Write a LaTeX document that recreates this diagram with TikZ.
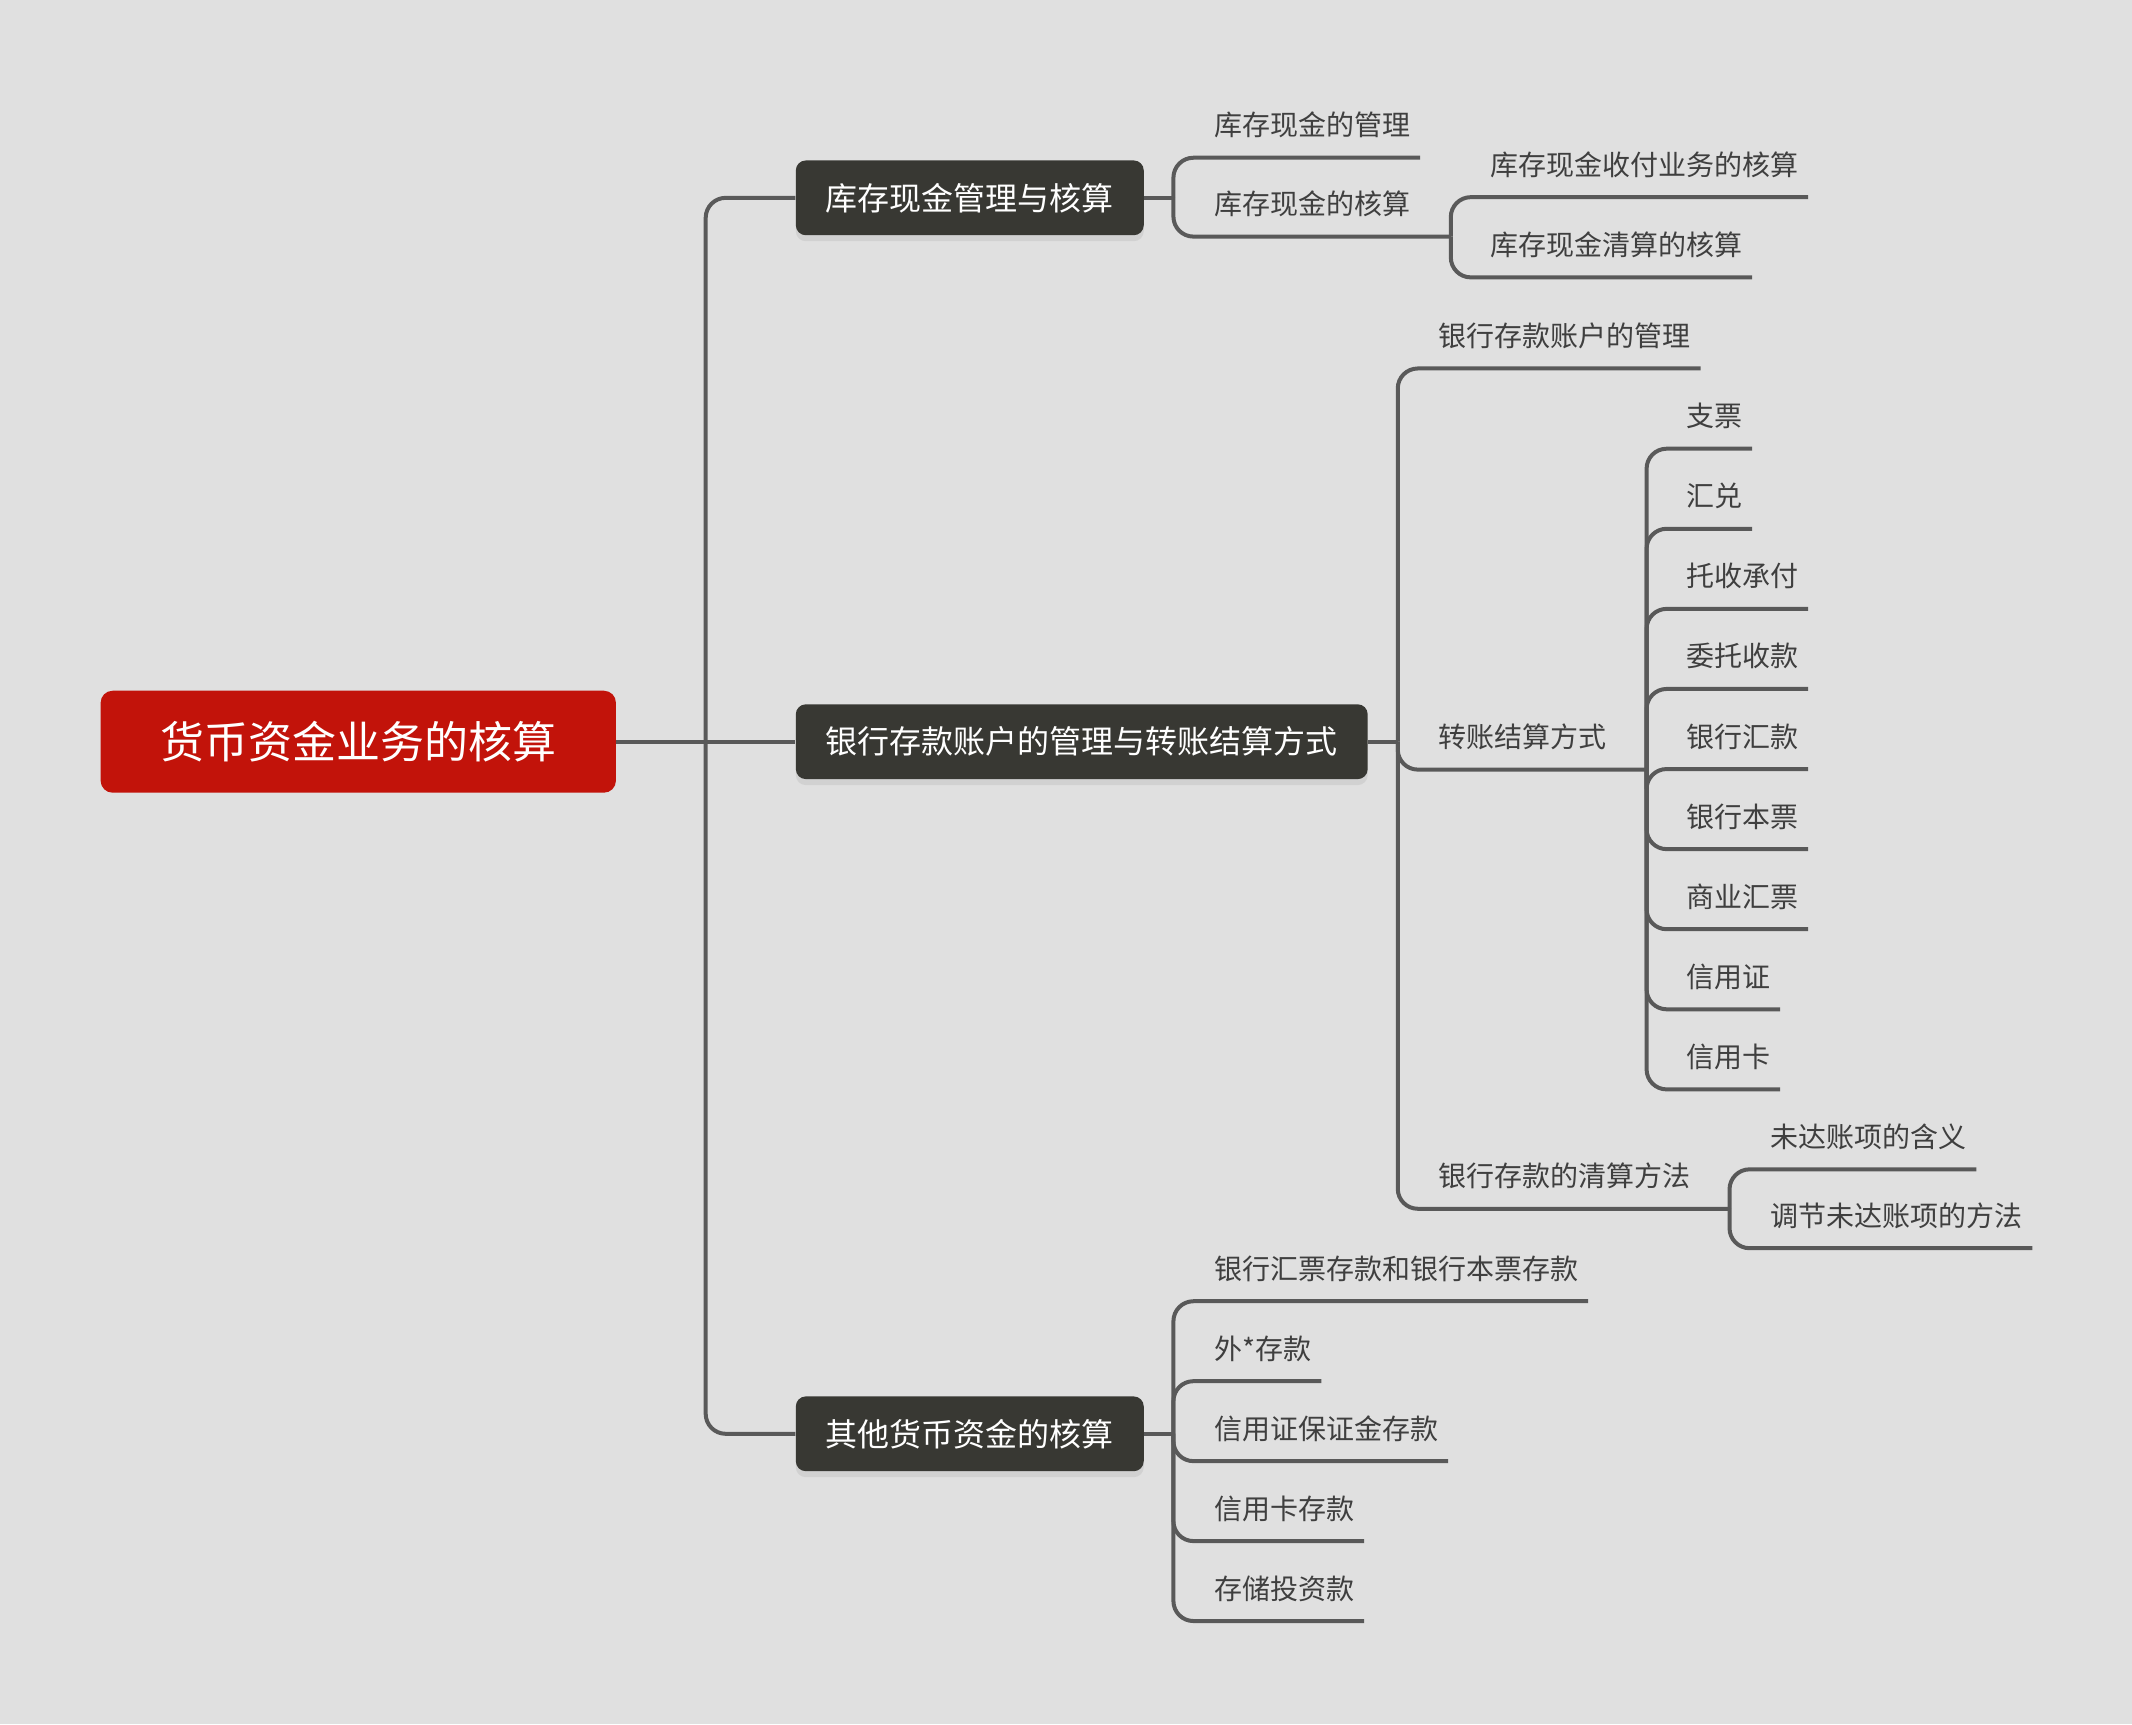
\documentclass[tikz,border=0pt]{standalone}
\usepackage{fontspec}
\setmainfont{Noto Sans CJK SC}
\usetikzlibrary{positioning,shadows}
\definecolor{bggray}{HTML}{E0E0E0}
\definecolor{linegray}{HTML}{595959}
\definecolor{topicgray}{HTML}{383833}
\definecolor{rootred}{HTML}{C2130A}
\definecolor{txtgray}{HTML}{3F3F3F}
\tikzset{x=0.68pt, y=-0.68pt, % one unit = one pixel of the sketch
link/.style={draw=linegray, line width=2pt, rounded corners=10pt}, % every branch line
rootbox/.style={fill=rootred, text=white, rounded corners=6pt, font=\fontsize{22}{26}\selectfont, minimum width=257.7pt, minimum height=51pt},
topic/.style={fill=topicgray, text=white, rounded corners=5pt, font=\fontsize{16}{19}\selectfont, minimum height=37.4pt, inner xsep=15pt, anchor=west, drop shadow={shadow xshift=0pt, shadow yshift=-3pt, opacity=0.15}},
leaf/.style={font=\fontsize{14}{17}\selectfont, text=txtgray, anchor=south west, inner sep=0pt, outer sep=0pt, text height=10pt, text depth=0pt, outer ysep=11pt}, % text sits on its line
}

\begin{document}
\begin{tikzpicture}
\fill[bggray] (0,0) rectangle (1568,1268);
\useasboundingbox (0,0) rectangle (1568,1268);
% root and the three topics
\node[rootbox] (root) at (263.5,545.5) {货币资金业务的核算};
\node[topic] (cash) at (585,145.5) {库存现金管理与核算};
\node[topic] (bank) at (585,545.5) {银行存款账户的管理与转账结算方式};
\node[topic] (other) at (585,1054.5) {其他货币资金的核算};
\draw[link] (root.east) -- (bank.west);
\draw[link] (519,545.5) |- (cash.west);
\draw[link] (519,545.5) |- (other.west);

% cash
\node[leaf] (cash1) at (893,116) {库存现金的管理};
\node[leaf] (cash2) at (893,174) {库存现金的核算};
\node[leaf] (cash21) at (1096,145) {库存现金收付业务的核算};
\node[leaf] (cash22) at (1096,204) {库存现金清算的核算};
\draw[link] (cash.east) -- (863,145.5);
\draw[link] (863,145.5) |- ([xshift=5pt]cash1.south east);
\draw[link] (863,145.5) |- (1067,174);
\draw[link] (1067,174) |- ([xshift=5pt]cash21.south east);
\draw[link] (1067,174) |- ([xshift=5pt]cash22.south east);

% bank
\node[leaf] (bank1) at (1058,271) {银行存款账户的管理};
\node[leaf] (bank2) at (1058,566) {转账结算方式};
\node[leaf] (bank3) at (1058,889) {银行存款的清算方法};
\draw[link] (bank.east) -- (1028,545.5);
\draw[link] (1028,545.5) |- ([xshift=5pt]bank1.south east);
\draw[link] (1028,545.5) |- (1211,566);
\draw[link] (1028,545.5) |- (1272,889);
\foreach \t [count=\i] in {支票,汇兑,托收承付,委托收款,银行汇款,银行本票,商业汇票,信用证,信用卡} {
  \node[leaf] (pay\i) at (1240,{330+58.9*(\i-1)}) {\t};
  \draw[link] (1211,566) |- ([xshift=5pt]pay\i.south east);
}
\node[leaf] (rec1) at (1302,860) {未达账项的含义};
\node[leaf] (rec2) at (1302,918) {调节未达账项的方法};
\draw[link] (1272,889) |- ([xshift=5pt]rec1.south east);
\draw[link] (1272,889) |- ([xshift=5pt]rec2.south east);

% other
\draw[link] (other.east) -- (863,1054.5);
\foreach \t [count=\i] in {银行汇票存款和银行本票存款,外*存款,信用证保证金存款,信用卡存款,存储投资款} {
  \node[leaf] (oth\i) at (893,{957+58.8*(\i-1)}) {\t};
  \draw[link] (863,1054.5) |- ([xshift=5pt]oth\i.south east);
}
\end{tikzpicture}
\end{document}
